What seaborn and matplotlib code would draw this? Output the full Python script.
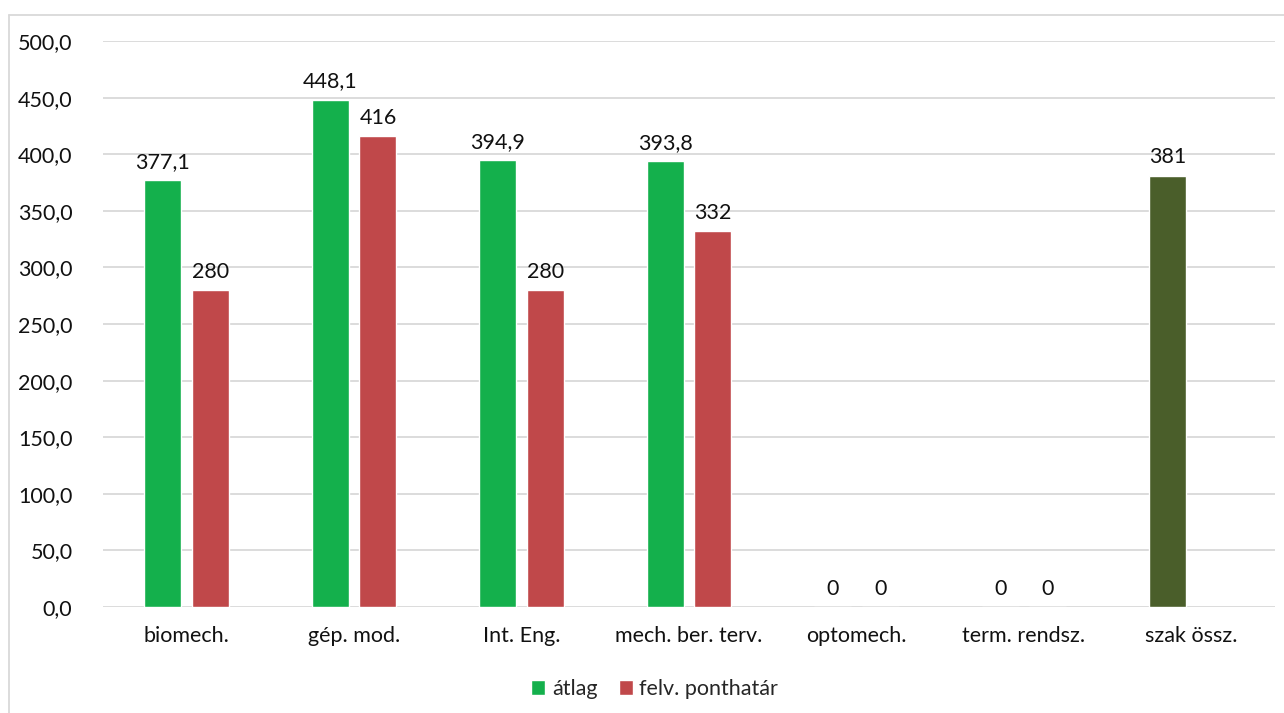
import numpy as np
import pandas as pd
import matplotlib
matplotlib.use("Agg")
import matplotlib.pyplot as plt
import seaborn as sns
from matplotlib.lines import Line2D

categories = ["biomech.", "gép. mod.", "Int. Eng.", "mech. ber. terv.", "optomech.", "term. rendsz.", "szak össz."]
atlag = [377.1, 448.1, 394.9, 393.8, 0, 0, 381]
ponthatar = [280, 416, 280, 332, 0, 0, np.nan]
series_names = ["átlag", "felv. ponthatár"]
yticks = [0, 50, 100, 150, 200, 250, 300, 350, 400, 450, 500]

df = pd.DataFrame({
    "cat": categories * 2,
    "series": [series_names[0]] * len(categories) + [series_names[1]] * len(categories),
    "val": atlag + ponthatar,
})

sns.set_theme(style="white")
plt.rcParams["font.family"] = ["Lato", "DejaVu Sans"]
FS = 15.5

fig = plt.figure(figsize=(12.84, 7.13), dpi=100)
ax = fig.add_axes([103 / 1284, 1 - 607 / 713, (1275 - 103) / 1284, (607 - 41) / 713])

palette = {series_names[0]: "#14b04c", series_names[1]: "#c0484a"}
sns.barplot(data=df, x="cat", y="val", hue="series", hue_order=series_names,
            order=categories, palette=palette, width=0.568, gap=0.22,
            saturation=1, ax=ax, legend=True)

# recolour the overall bar
for p in ax.patches:
    cx = p.get_x() + p.get_width() / 2
    if abs(cx - (len(categories) - 1)) < 0.3 and p.get_height() > 0:
        p.set_facecolor("#4a5e2a")

def fmt(v):
    if v is None or (isinstance(v, float) and np.isnan(v)):
        return ""
    if float(v).is_integer():
        return "%d" % int(v)
    return ("%.1f" % v).replace(".", ",")

for cont in ax.containers:
    labels = [fmt(v) for v in cont.datavalues]
    ax.bar_label(cont, labels=labels, padding=6, fontsize=FS, color="#111111")

ax.set_ylim(0, 500)
ax.set_xlim(-0.5, len(categories) - 0.5)
ax.set_yticks(yticks)
ax.set_yticklabels([("%.1f" % t).replace(".", ",") for t in yticks])
ax.tick_params(axis="y", labelsize=FS, colors="#111111", length=0, pad=22)
ax.tick_params(axis="x", labelsize=FS, colors="#111111", length=0, pad=14)
ax.set_xlabel("")
ax.set_ylabel("")
ax.grid(axis="y", color="#d9d9d9", linewidth=1.3)
ax.set_axisbelow(True)
for s in ax.spines.values():
    s.set_visible(False)

handles, labs = ax.get_legend_handles_labels()
ax.legend(handles, labs, loc="center", bbox_to_anchor=(0.51, 1 - 689 / 713),
          bbox_transform=fig.transFigure, ncol=2, frameon=False,
          fontsize=FS, handlelength=0.65, handleheight=0.65,
          handletextpad=0.3, columnspacing=1.0)

# outer chart frame
fig.add_artist(Line2D([9 / 1284, 9 / 1284], [0, 1 - 15 / 713], transform=fig.transFigure,
                      color="#d9d9d9", linewidth=1.3))
fig.add_artist(Line2D([9 / 1284, 1], [1 - 15 / 713, 1 - 15 / 713], transform=fig.transFigure,
                      color="#d9d9d9", linewidth=1.3))

fig.savefig("out.png", dpi=100)
